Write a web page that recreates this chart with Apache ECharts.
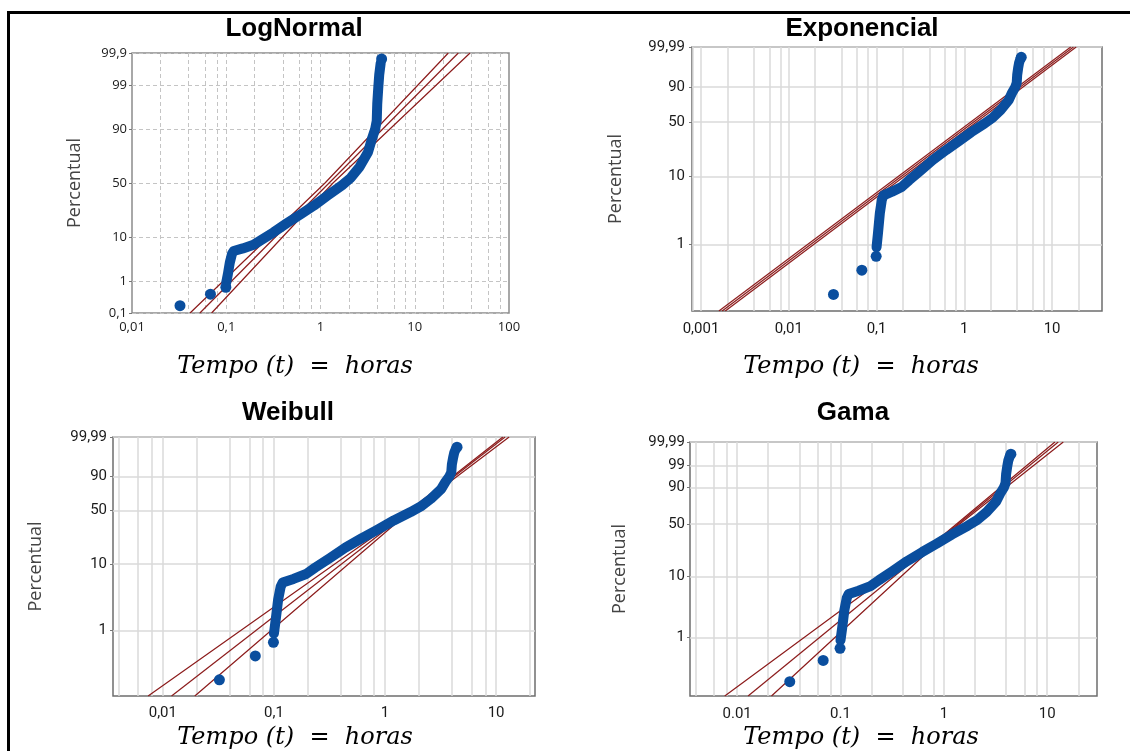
<!DOCTYPE html>
<html><head><meta charset="utf-8">
<script src="https://cdn.jsdelivr.net/npm/echarts@6/dist/echarts.min.js"></script>
<style>html,body{margin:0;padding:0;background:#fff}#c{width:1130px;height:751px}</style>
</head><body><div id="c"></div><script>
// ---------- data (time in hours, cumulative percent) ----------
const bandHours = [0.100,0.104,0.109,0.115,0.120,0.150,0.195,0.235,0.316,0.44,0.62,0.85,1.2,1.7,2.1,2.6,3.2,3.5,3.8,3.95,4.0,4.1,4.2,4.35];
const bandPct   = [0.9,1.5,2.9,4.6,5.3,6.0,7.1,8.8,12.0,17.0,23.0,29.5,38.5,48.0,55.0,65.0,77.0,85.0,90.0,93.0,97.0,98.8,99.5,99.78];
const dotHours  = [0.0323,0.068,0.099,4.45];
const dotPct    = [0.177,0.41,0.66,99.84];

// fitted lines and confidence bounds
const lnFitHours = [0.0525,28.97],        lnFitPct = [0.1,99.9];
const lnLoHours  = [0.0413,1.116,22.7],   lnLoPct  = [0.1,50,99.9];
const lnHiHours  = [0.0699,1.357,38.6],   lnHiPct  = [0.1,50,99.9];
const exFitHours = [0.00174,17.5],        exFitPct = [0.1,99.99];
const exLoHours  = [0.00160,16.3],        exLoPct  = [0.1,99.99];
const exHiHours  = [0.00189,18.8],        exHiPct  = [0.1,99.99];
const wbFitHours = [0.01198,12.05],       wbFitPct = [0.1,99.99];
const wbLoHours  = [0.00737,1.32,11.5],   wbLoPct  = [0.1,40,99.99];
const wbHiHours  = [0.0194,1.39,13.1],    wbHiPct  = [0.1,40,99.99];
const gmFitHours = [0.01276,12.78],       gmFitPct = [0.1,99.99];
const gmLoHours  = [0.00759,1.03,11.87],  gmLoPct  = [0.1,39.5,99.99];
const gmHiHours  = [0.0215,1.09,14.3],    gmHiPct  = [0.1,39.5,99.99];

// tick labels
const lnYTicks = [0.1,1,10,50,90,99,99.9];   const lnYLabels = ['0,1','1','10','50','90','99','99,9'];
const exYTicks = [1,10,50,90,99.99];         const exYLabels = ['1','10','50','90','99,99'];
const wbYTicks = [1,10,50,90,99.99];         const wbYLabels = ['1','10','50','90','99,99'];
const gmYTicks = [1,10,50,90,99,99.99];      const gmYLabels = ['1','10','50','90','99','99,99'];
const lnXTicks = [0.01,0.1,1,10,100];        const lnXLabels = ['0,01','0,1','1','10','100'];
const exXTicks = [0.001,0.01,0.1,1,10];      const exXLabels = ['0,001','0,01','0,1','1','10'];
const wbXTicks = [0.01,0.1,1,10];            const wbXLabels = ['0,01','0,1','1','10'];
const gmXTicks = [0.01,0.1,1,10];            const gmXLabels = ['0.01','0.1','1','10'];

// ---------- probability scales ----------
function normInv(p){
  const a=[-3.969683028665376e+01,2.209460984245205e+02,-2.759285104469687e+02,1.383577518672690e+02,-3.066479806614716e+01,2.506628277459239e+00];
  const b=[-5.447609879822406e+01,1.615858368580409e+02,-1.556989798598866e+02,6.680131188771972e+01,-1.328068155288572e+01];
  const c=[-7.784894002430293e-03,-3.223964580411365e-01,-2.400758277161838e+00,-2.549732539343734e+00,4.374664141464968e+00,2.938163982698783e+00];
  const d=[7.784695709041462e-03,3.224671290700398e-01,2.445134137142996e+00,3.754408661907416e+00];
  const pl=0.02425; let q,r;
  if(p<pl){q=Math.sqrt(-2*Math.log(p));return (((((c[0]*q+c[1])*q+c[2])*q+c[3])*q+c[4])*q+c[5])/((((d[0]*q+d[1])*q+d[2])*q+d[3])*q+1);}
  if(p>1-pl){q=Math.sqrt(-2*Math.log(1-p));return -(((((c[0]*q+c[1])*q+c[2])*q+c[3])*q+c[4])*q+c[5])/((((d[0]*q+d[1])*q+d[2])*q+d[3])*q+1);}
  q=p-0.5;r=q*q;return (((((a[0]*r+a[1])*r+a[2])*r+a[3])*r+a[4])*r+a[5])*q/(((((b[0]*r+b[1])*r+b[2])*r+b[3])*r+b[4])*r+1);
}
const GAMMA_SHAPE = 1.5, LN_GAMMA_AP1 = 0.2846828704729192; // ln Γ(2.5)
function gammaP(a,x){
  if(x<=0) return 0;
  let sum=1, term=1;
  for(let n=1;n<600;n++){term*=x/(a+n);sum+=term;if(term<sum*1e-16)break;}
  return Math.exp(-x+a*Math.log(x)-LN_GAMMA_AP1)*sum;
}
function gammaLnQ(p){
  let lo=-25, hi=4;
  for(let i=0;i<80;i++){const m=(lo+hi)/2; if(gammaP(GAMMA_SHAPE,Math.exp(m))<p) lo=m; else hi=m;}
  return (lo+hi)/2;
}
const scales = {
  normal: pc => normInv(pc/100),
  weibull: pc => Math.log(-Math.log(1-pc/100)),
  gamma: pc => gammaLnQ(pc/100)
};

function decadeGrid(min,max){
  const out=[];
  for(let e=-4;e<=3;e++) for(const m of [1,2,4,6,8]){
    const v=parseFloat((m*Math.pow(10,e)).toPrecision(6));
    if(v>min*1.001 && v<max*0.999) out.push(v);
  }
  return out;
}

const BLUE = '#0a4e9e', RED = '#8c1c1c';
const panels = [
  {title:'LogNormal', tx:294, ty:29, sx:295, sy:367, grid:{left:132,top:53,width:377,height:260}, scale:'normal',
   pMin:0.1, pMax:99.9, xMin:0.01, xMax:100, xT:lnXTicks, xL:lnXLabels, yT:lnYTicks, yL:lnYLabels, dashed:true, nameGap:48,
   font:'Open Sans', fs:13, xm:8, ym:5,
   fits:[[lnFitHours,lnFitPct],[lnLoHours,lnLoPct],[lnHiHours,lnHiPct]]},
  {title:'Exponencial', tx:862, ty:29, sx:861, sy:367, grid:{left:692,top:47,width:410,height:264}, scale:'weibull',
   pMin:0.1, pMax:99.99, xMin:0.00079, xMax:37, xT:exXTicks, xL:exXLabels, yT:exYTicks, yL:exYLabels, dashed:false, nameGap:67,
   font:'Roboto', fs:15, xm:11, ym:7,
   fits:[[exFitHours,exFitPct],[exLoHours,exLoPct],[exHiHours,exHiPct]]},
  {title:'Weibull', tx:288, ty:413, sx:295, sy:738, grid:{left:113,top:437,width:422,height:259}, scale:'weibull',
   pMin:0.1, pMax:99.99, xMin:0.00356, xMax:22.4, xT:wbXTicks, xL:wbXLabels, yT:wbYTicks, yL:wbYLabels, dashed:false, nameGap:68,
   font:'Roboto', fs:15, xm:10, ym:6,
   fits:[[wbFitHours,wbFitPct],[wbLoHours,wbLoPct],[wbHiHours,wbHiPct]]},
  {title:'Gama', tx:853, ty:413, sx:861, sy:738, grid:{left:690,top:442,width:407,height:254}, scale:'gamma',
   pMin:0.1, pMax:99.99, xMin:0.0035, xMax:30.3, xT:gmXTicks, xL:gmXLabels, yT:gmYTicks, yL:gmYLabels, dashed:false, nameGap:61,
   font:'Roboto', fs:15, xm:11, ym:5,
   fits:[[gmFitHours,gmFitPct],[gmLoHours,gmLoPct],[gmHiHours,gmHiPct]]}
];

const grids=[], xAxes=[], yAxes=[], series=[], graphics=[];
panels.forEach((P,i)=>{
  const T = scales[P.scale];
  const yVals = P.yT.map(T);
  const gridLine = P.dashed ? {color:'#c4c4c4', width:1, type:[4,3]} : {color:'#dadada', width:1.5, type:'solid'};
  grids.push(Object.assign({show:true, borderColor: P.dashed?'#8c8c8c':'#6e6e6e', borderWidth:1.5, backgroundColor:'#fff'}, P.grid));
  xAxes.push({
    gridIndex:i, type:'log', logBase:10, min:P.xMin, max:P.xMax,
    axisLine:{show:false},
    axisTick:{show:false, customValues: decadeGrid(P.xMin,P.xMax)},
    axisLabel:{customValues:P.xT, margin:P.xm, fontFamily:P.font, fontSize:P.fs, color:'#1a1a1a',
      formatter: v => { const k=P.xT.findIndex(t=>Math.abs(Math.log10(t)-Math.log10(v))<1e-6); return k>=0?P.xL[k]:''; }},
    splitLine:{show:true, lineStyle:gridLine}
  });
  yAxes.push({
    gridIndex:i, type:'value', min:T(P.pMin), max:T(P.pMax),
    name:'Percentual', nameLocation:'middle', nameGap:P.nameGap, nameRotate:90,
    nameTextStyle:{fontFamily:'Open Sans', fontSize:18, color:'#444'},
    axisLine:{show:false},
    axisTick:{show:true, length:3, customValues:yVals, lineStyle:{color:'#777'}},
    axisLabel:{customValues:yVals, margin:P.ym, fontFamily:P.font, fontSize:P.fs, color:'#1a1a1a',
      formatter: v => { const k=yVals.findIndex(t=>Math.abs(t-v)<1e-6); return k>=0?P.yL[k]:''; }},
    splitLine:{show:true, lineStyle:gridLine}
  });
  P.fits.forEach(([hrs,pc])=>{
    series.push({type:'line', xAxisIndex:i, yAxisIndex:i, symbol:'none', silent:true, z:3, clip:true,
      lineStyle:{color:RED, width:1.2}, data: hrs.map((h,j)=>[h, T(pc[j])])});
  });
  series.push({type:'line', xAxisIndex:i, yAxisIndex:i, symbol:'none', silent:true, z:4,
    lineStyle:{color:BLUE, width:10, cap:'round', join:'round'},
    data: bandHours.map((h,j)=>[h, T(bandPct[j])])});
  series.push({type:'scatter', xAxisIndex:i, yAxisIndex:i, symbolSize:11, silent:true, z:5,
    itemStyle:{color:BLUE, opacity:1}, data: dotHours.map((h,j)=>[h, T(dotPct[j])])});
  graphics.push({type:'text', x:P.tx, y:P.ty, style:{text:P.title, fill:'#000', font:'bold 26px "Liberation Sans", Arial, sans-serif', textAlign:'center', textVerticalAlign:'middle'}});
  graphics.push({type:'text', x:P.sx, y:P.sy, style:{text:'Tempo (t)  =  horas', fill:'#000', font:'italic 24px "DejaVu Serif", serif', textAlign:'center', textVerticalAlign:'middle'}});
});
graphics.push({type:'rect', shape:{x:8.5,y:12.5,width:1300,height:900}, style:{fill:'none', stroke:'#000', lineWidth:3}});

const chart = echarts.init(document.getElementById('c'), null, {renderer:'canvas'});
chart.setOption({animation:false, backgroundColor:'#fff', grid:grids, xAxis:xAxes, yAxis:yAxes, series:series, graphic:graphics});
</script></body></html>
